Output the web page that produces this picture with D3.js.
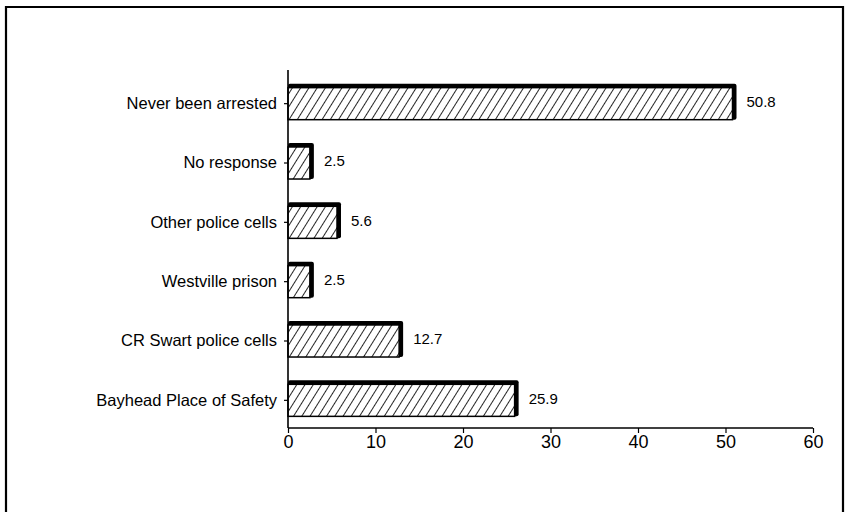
<!DOCTYPE html>
<meta charset="utf-8">
<head>
    <script src="https://d3js.org/d3.v7.min.js"></script>
    <style>
    body { margin: 0; background: white; }
    svg { font-family: "Liberation Sans", Arial, sans-serif; }
    </style>
</head>
<body>
    <svg id="svgid" width="847" height="512"></svg>
    <script>
        // data
        var categories = ["Never been arrested", "No response", "Other police cells",
                          "Westville prison", "CR Swart police cells", "Bayhead Place of Safety"];
        var values = [50.8, 2.5, 5.6, 2.5, 12.7, 25.9];
        var valueLabels = ["50.8", "2.5", "5.6", "2.5", "12.7", "25.9"];
        var xTicks = [0, 10, 20, 30, 40, 50, 60];

        var svg = d3.select("#svgid");

        // frame round the chart
        svg.append("path")
            .attr("d", "M6,514 L6,7 L843,7 L843,514")
            .style("fill", "none")
            .style("stroke", "#000")
            .style("stroke-width", 2.2);

        // hatch pattern
        var pat = svg.append("defs").append("pattern")
            .attr("id", "hatch")
            .attr("patternUnits", "userSpaceOnUse")
            .attr("width", 7).attr("height", 7)
            .attr("patternTransform", "rotate(32)");
        pat.append("rect").attr("width", 7).attr("height", 7).attr("fill", "white");
        pat.append("line")
            .attr("x1", 0).attr("y1", 0).attr("x2", 0).attr("y2", 7)
            .style("stroke", "#000").style("stroke-width", 1.7);

        var x = d3.scaleLinear().domain([0, 60]).range([288, 813]);
        var y = d3.scaleBand().domain(categories).range([74, 430]).paddingInner(0.46).paddingOuter(0.23);

        // bars: black shadow on top/right, hatched face
        var bars = svg.append("g").selectAll("g").data(values).enter().append("g");
        bars.append("rect")
            .attr("x", x(0))
            .attr("y", function(d, i) { return y(categories[i]) - 4; })
            .attr("width", function(d) { return x(d) - x(0) + 4; })
            .attr("height", y.bandwidth() + 4)
            .attr("rx", 2)
            .style("fill", "#000");
        bars.append("rect")
            .attr("x", x(0))
            .attr("y", function(d, i) { return y(categories[i]); })
            .attr("width", function(d) { return x(d) - x(0); })
            .attr("height", y.bandwidth())
            .style("fill", "url(#hatch)")
            .style("stroke", "#000")
            .style("stroke-width", 1.5);

        // value labels
        svg.append("g").selectAll("text").data(values).enter().append("text")
            .attr("x", function(d) { return x(d) + 14; })
            .attr("y", function(d, i) { return y(categories[i]) + y.bandwidth() / 2 - 2; })
            .attr("dy", "0.35em")
            .style("font-size", "15px")
            .text(function(d, i) { return valueLabels[i]; });

        // y axis
        var yAxis = svg.append("g")
            .attr("transform", "translate(288,0)")
            .call(d3.axisLeft(y).tickSize(4).tickPadding(7));
        yAxis.select(".domain").attr("d", "M0,70 L0,428").style("stroke-width", 1.6);
        yAxis.selectAll("text").style("font-size", "16.5px").attr("font-family", null).attr("fill", "#000");
        yAxis.selectAll("line").style("stroke-width", 1.2);

        // x axis
        var xAxis = svg.append("g")
            .attr("transform", "translate(0,428)")
            .call(d3.axisBottom(x).tickValues(xTicks).tickSize(5).tickPadding(2));
        xAxis.select(".domain").attr("d", "M288,0 L813,0").style("stroke-width", 1.6);
        xAxis.selectAll("text").style("font-size", "18px").attr("font-family", null).attr("fill", "#000");
        xAxis.selectAll("line").style("stroke-width", 1.2);
    </script>
</body>
